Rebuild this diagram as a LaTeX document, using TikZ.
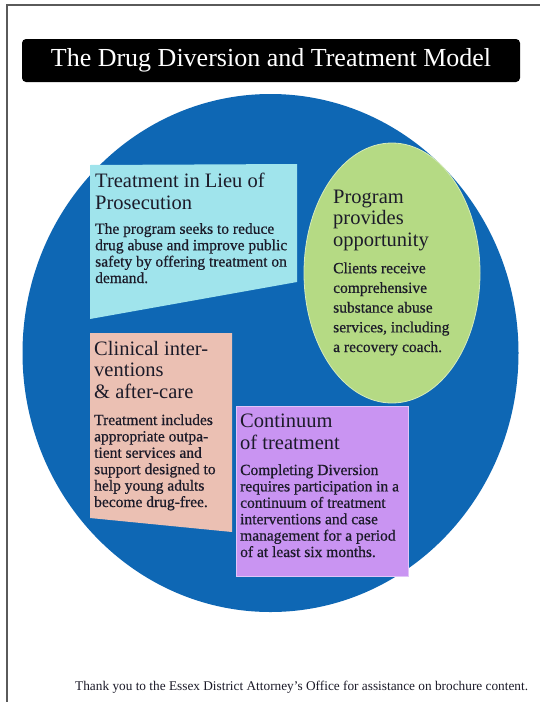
\documentclass[tikz,border=0pt]{standalone}
\usepackage{fontspec}
\setmainfont{Liberation Serif}
\newfontfamily\blurbfont{Liberation Serif}[FakeBold=0.6]
\usetikzlibrary{positioning}
\definecolor{ink}{HTML}{1C1B29}
\definecolor{framec}{HTML}{5A5A5A}
\definecolor{circlec}{HTML}{0E67B4}
\definecolor{lieuc}{HTML}{A0E4EC}
\definecolor{programc}{HTML}{B5DA84}
\definecolor{clinicalc}{HTML}{EBC0B3}
\definecolor{continuumc}{HTML}{C994F2}

\begin{document}
\begin{tikzpicture}[x=1pt,y=-1pt,every node/.style={inner sep=0pt,text=ink}]
\tikzstyle{head}=[anchor=base west,align=left,font=\fontsize{20.5}{21.5}\selectfont]
\tikzstyle{blurb}=[anchor=base west,align=left,font=\blurbfont\fontsize{15.5}{16.4}\selectfont]
\useasboundingbox (0,0) rectangle (540,702);
\fill[white] (0,0) rectangle (540,702);
\draw[framec,line width=1.2pt] (540,5) -- (7,5) -- (7,702);
% title bar
\node[fill=black,rounded corners=4pt,minimum width=498pt,minimum height=43pt,text=white,font=\fontsize{26}{28}\selectfont] (title) at (271,60.5) {The Drug Diversion and Treatment Model};
% big circle and the four panels
\fill[circlec] (270.5,353) ellipse [x radius=248pt,y radius=259pt];
\fill[lieuc] (90,165) -- (297,164) -- (297,282) -- (90,319) -- cycle;
\filldraw[fill=programc,draw=programc!55!white,line width=0.8pt] (392,273) ellipse [x radius=88pt,y radius=130pt];
\fill[clinicalc] (90,333) -- (232,333) -- (232,532) -- (90,518) -- cycle;
\filldraw[fill=continuumc,draw=continuumc!55!white,line width=0.8pt] (236,406) rectangle (408,576);
% texts (base = last line)
\node[head] (lieuhead) at (95,209) {Treatment in Lieu of\\Prosecution};
\node[blurb] (lieutext) at (95,283) {The program seeks to reduce\\drug abuse and improve public\\safety by offering treatment on\\demand.};
\node[head] (programhead) at (333,246) {Program\\provides\\opportunity};
\node[blurb,font=\blurbfont\fontsize{15.5}{19.7}\selectfont] (programtext) at (333,352) {Clients receive\\comprehensive\\substance abuse\\services, including\\a recovery coach.};
\node[head] (clinicalhead) at (94,398) {Clinical inter-\\ventions\\\& after-care};
\node[blurb] (clinicaltext) at (94,507) {Treatment includes\\appropriate outpa-\\tient services and\\support designed to\\help young adults\\become drug-free.};
\node[head] (continuumhead) at (240,449) {Continuum\\of treatment};
\node[blurb] (continuumtext) at (240,557) {Completing Diversion\\requires participation in a\\continuum of treatment\\interventions and case\\management for a period\\of at least six months.};
\node[anchor=base west,font=\fontsize{13.3}{15}\selectfont] (thanks) at (75,690) {Thank you to the Essex District Attorney’s Office for assistance on brochure content.};
\end{tikzpicture}
\end{document}
